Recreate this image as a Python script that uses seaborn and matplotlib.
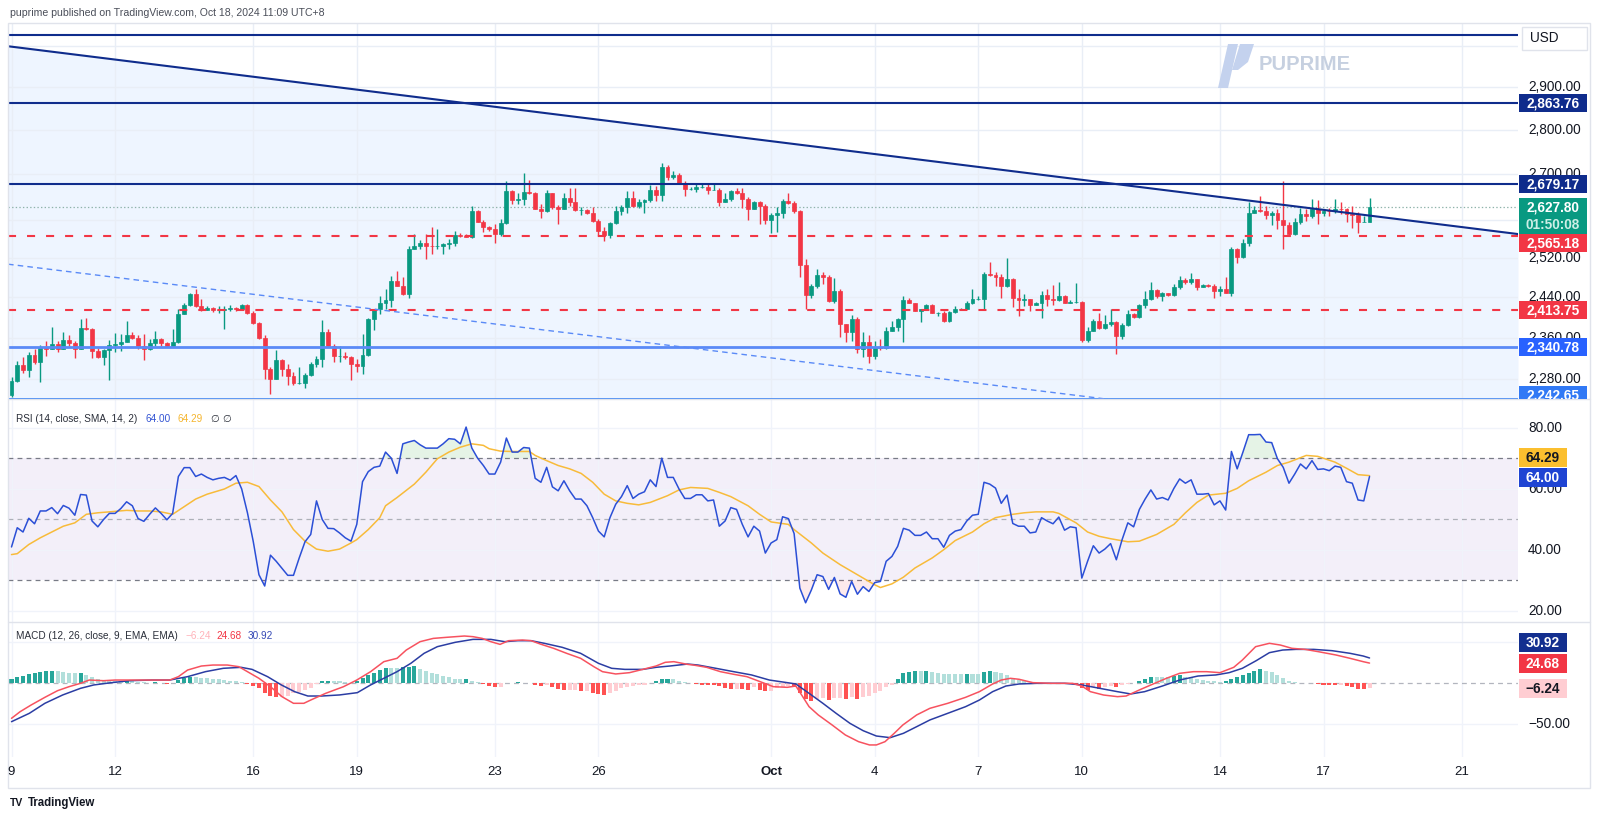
import matplotlib
matplotlib.use("Agg")
import numpy as np
import matplotlib.pyplot as plt
import seaborn as sns
from matplotlib.patches import Rectangle, Polygon
from matplotlib.lines import Line2D
from matplotlib.transforms import Bbox, TransformedBbox

'''Gráfico 4H no estilo TradingView: candles + RSI + MACD'''

# Valores (um candle a cada 4 horas, índice 0 = dia 9)
primeira_abertura = 2250
fechamentos = [
    2277, 2307, 2297, 2327, 2313, 2341, 2338, 2348, 2338, 2355,
    2350, 2338, 2378, 2376, 2334, 2322, 2335, 2345, 2347, 2352,
    2365, 2360, 2344, 2338, 2350, 2357, 2349, 2344, 2352, 2407,
    2424, 2446, 2423, 2414, 2419, 2414, 2415, 2417, 2419, 2416,
    2424, 2409, 2388, 2360, 2299, 2281, 2316, 2300, 2287, 2273,
    2274, 2289, 2310, 2318, 2370, 2344, 2324, 2325, 2323, 2310,
    2305, 2327, 2397, 2416, 2429, 2435, 2473, 2463, 2447, 2538,
    2545, 2552, 2545, 2544, 2544, 2549, 2552, 2567, 2565, 2564,
    2620, 2596, 2586, 2580, 2570, 2594, 2663, 2644, 2645, 2661,
    2659, 2624, 2620, 2658, 2629, 2624, 2648, 2638, 2622, 2622,
    2615, 2598, 2577, 2567, 2594, 2620, 2627, 2648, 2631, 2639,
    2644, 2665, 2655, 2717, 2693, 2698, 2681, 2668, 2668, 2672,
    2672, 2665, 2666, 2639, 2645, 2663, 2659, 2646, 2624, 2639,
    2630, 2600, 2610, 2616, 2641, 2636, 2620, 2506, 2444, 2463,
    2485, 2480, 2433, 2453, 2386, 2371, 2397, 2338, 2352, 2325,
    2341, 2339, 2373, 2380, 2396, 2434, 2429, 2413, 2416, 2424,
    2409, 2409, 2392, 2411, 2416, 2417, 2429, 2436, 2437, 2486,
    2485, 2480, 2463, 2476, 2439, 2435, 2436, 2424, 2428, 2444,
    2437, 2435, 2443, 2429, 2430, 2430, 2356, 2373, 2393, 2378,
    2386, 2390, 2363, 2385, 2406, 2401, 2424, 2437, 2455, 2443,
    2448, 2444, 2461, 2475, 2471, 2476, 2461, 2464, 2463, 2453,
    2457, 2449, 2539, 2521, 2551, 2616, 2622, 2620, 2610, 2616,
    2600, 2589, 2571, 2595, 2613, 2608, 2624, 2616, 2620, 2619,
    2624, 2623, 2613, 2610, 2596, 2596, 2627.80]
maximas = [
    2284, 2314, 2322, 2333, 2338, 2346, 2354, 2380, 2353, 2371,
    2364, 2354, 2396, 2399, 2378, 2339, 2338, 2355, 2369, 2366,
    2392, 2371, 2364, 2367, 2357, 2373, 2360, 2352, 2377, 2417,
    2429, 2449, 2457, 2436, 2423, 2421, 2423, 2423, 2424, 2421,
    2426, 2426, 2413, 2390, 2364, 2303, 2335, 2319, 2310, 2294,
    2303, 2293, 2313, 2325, 2394, 2377, 2348, 2343, 2332, 2325,
    2319, 2366, 2399, 2417, 2443, 2456, 2483, 2493, 2480, 2545,
    2570, 2557, 2570, 2584, 2580, 2552, 2559, 2577, 2573, 2570,
    2630, 2622, 2600, 2587, 2591, 2602, 2685, 2666, 2659, 2702,
    2688, 2660, 2634, 2666, 2659, 2632, 2659, 2670, 2670, 2629,
    2624, 2629, 2602, 2584, 2596, 2630, 2632, 2662, 2662, 2645,
    2646, 2675, 2674, 2726, 2720, 2708, 2702, 2685, 2672, 2681,
    2681, 2681, 2681, 2670, 2658, 2666, 2670, 2670, 2650, 2641,
    2641, 2634, 2616, 2627, 2645, 2658, 2641, 2622, 2517, 2466,
    2497, 2490, 2485, 2478, 2456, 2386, 2404, 2401, 2370, 2364,
    2354, 2357, 2380, 2393, 2399, 2443, 2439, 2429, 2417, 2426,
    2426, 2410, 2413, 2413, 2423, 2419, 2433, 2457, 2443, 2490,
    2511, 2490, 2486, 2520, 2479, 2457, 2446, 2437, 2430, 2452,
    2456, 2464, 2471, 2444, 2435, 2469, 2432, 2380, 2396, 2408,
    2404, 2416, 2393, 2388, 2415, 2409, 2426, 2453, 2471, 2456,
    2451, 2448, 2466, 2483, 2478, 2488, 2476, 2466, 2466, 2466,
    2463, 2481, 2543, 2541, 2560, 2638, 2630, 2652, 2630, 2620,
    2623, 2685, 2595, 2605, 2625, 2623, 2645, 2644, 2623, 2625,
    2645, 2638, 2625, 2630, 2617, 2609, 2648]
minimas = [
    2247, 2275, 2292, 2284, 2310, 2275, 2324, 2338, 2332, 2337,
    2344, 2320, 2337, 2374, 2321, 2320, 2308, 2278, 2332, 2334,
    2351, 2357, 2338, 2316, 2336, 2344, 2344, 2341, 2343, 2350,
    2406, 2423, 2421, 2413, 2414, 2411, 2409, 2377, 2413, 2413,
    2415, 2406, 2386, 2357, 2281, 2253, 2280, 2287, 2269, 2269,
    2271, 2264, 2287, 2303, 2303, 2341, 2313, 2313, 2318, 2278,
    2294, 2290, 2324, 2374, 2406, 2416, 2421, 2462, 2445, 2439,
    2538, 2538, 2517, 2528, 2538, 2528, 2538, 2545, 2563, 2563,
    2561, 2595, 2575, 2577, 2552, 2565, 2592, 2635, 2635, 2633,
    2656, 2623, 2605, 2618, 2624, 2591, 2623, 2630, 2620, 2611,
    2613, 2596, 2565, 2555, 2562, 2591, 2611, 2616, 2627, 2625,
    2615, 2639, 2641, 2641, 2688, 2690, 2681, 2651, 2665, 2661,
    2670, 2656, 2665, 2630, 2638, 2641, 2656, 2625, 2600, 2623,
    2591, 2591, 2573, 2574, 2605, 2634, 2616, 2480, 2416, 2439,
    2459, 2466, 2431, 2429, 2362, 2352, 2354, 2330, 2322, 2311,
    2318, 2335, 2338, 2372, 2373, 2352, 2428, 2413, 2390, 2415,
    2408, 2403, 2391, 2391, 2409, 2415, 2417, 2426, 2435, 2416,
    2483, 2463, 2439, 2461, 2420, 2403, 2423, 2413, 2424, 2399,
    2423, 2424, 2433, 2428, 2428, 2429, 2352, 2352, 2372, 2377,
    2377, 2383, 2328, 2358, 2382, 2399, 2398, 2419, 2435, 2439,
    2433, 2443, 2443, 2457, 2466, 2466, 2455, 2461, 2461, 2439,
    2443, 2448, 2443, 2510, 2519, 2545, 2616, 2617, 2602, 2589,
    2580, 2538, 2565, 2567, 2591, 2598, 2605, 2591, 2609, 2609,
    2615, 2613, 2595, 2583, 2573, 2595, 2595]

rsi = [
    40.9, 47.2, 45.8, 50.3, 48.5, 52.7, 52.7, 53.8, 51.8, 54.5,
    53.6, 51.3, 58.1, 57.9, 49.4, 47.5, 49.9, 51.9, 51.9, 53.5,
    55.7, 54.4, 50.2, 49.3, 51.6, 53.7, 51.9, 49.8, 51.9, 64.0,
    66.9, 66.9, 64.0, 64.8, 63.7, 62.9, 63.4, 63.7, 62.8, 64.3,
    59.9, 52.1, 42.8, 31.8, 28.1, 38.2, 36.2, 33.9, 31.6, 31.6,
    37.3, 42.6, 45.0, 56.0, 49.9, 47.0, 46.9, 45.5, 43.9, 42.8,
    48.3, 62.3, 65.6, 67.0, 67.4, 72.0, 70.0, 65.0, 74.7, 75.3,
    75.8, 74.4, 73.3, 73.3, 73.3, 74.7, 76.4, 76.2, 74.7, 80.2,
    73.3, 70.0, 67.6, 64.8, 64.8, 68.7, 76.6, 72.0, 72.0, 73.5,
    73.3, 63.4, 62.1, 67.0, 60.6, 59.3, 62.6, 59.3, 56.6, 56.6,
    54.4, 50.5, 46.1, 44.2, 50.5, 54.9, 57.4, 61.0, 56.8, 58.2,
    59.0, 62.9, 60.7, 70.0, 63.7, 63.7, 59.9, 56.8, 56.8, 58.0,
    58.0, 56.0, 56.3, 47.7, 49.4, 53.8, 53.2, 48.3, 44.2, 47.7,
    46.1, 38.9, 42.2, 43.3, 50.8, 50.2, 45.3, 27.4, 22.6, 26.8,
    31.8, 31.2, 27.0, 30.9, 25.5, 24.4, 29.6, 25.4, 27.9, 26.3,
    29.2, 29.6, 36.2, 37.8, 41.1, 47.0, 46.4, 44.7, 44.7, 45.8,
    43.6, 43.6, 40.8, 44.7, 46.1, 46.6, 49.4, 51.3, 51.6, 62.1,
    61.5, 60.2, 55.2, 57.9, 48.6, 47.7, 47.7, 45.5, 45.8, 50.5,
    49.4, 48.5, 50.7, 46.4, 47.5, 47.2, 30.7, 36.2, 41.3, 38.9,
    40.2, 42.0, 36.7, 43.3, 48.8, 47.5, 53.2, 56.6, 59.6, 56.6,
    57.1, 56.3, 60.1, 63.2, 61.8, 62.9, 58.2, 58.2, 58.4, 54.7,
    56.0, 53.0, 72.2, 66.5, 72.0, 77.7, 77.7, 77.8, 75.3, 75.1,
    69.8, 67.0, 61.8, 64.8, 68.1, 66.5, 69.2, 66.3, 66.5, 65.9,
    67.4, 67.0, 62.3, 61.8, 56.3, 56.0, 64.00]

# média do RSI (lida em pontos da curva)
rsi_media_x = [0, 1, 3, 5, 7, 9, 11, 13, 15, 17, 20, 22, 24, 26, 28, 30, 32, 34, 37, 39,
               41, 43, 45, 47, 49, 51, 53, 55, 57, 59, 60, 62, 64, 65, 67, 70, 72, 74, 76, 78,
               80, 82, 83, 85, 87, 90, 91, 93, 95, 97, 99, 101, 103, 105, 107, 109, 111, 114, 116, 118,
               121, 123, 125, 128, 130, 132, 135, 136, 139, 141, 144, 147, 150, 151, 153, 155, 157, 160, 162, 164,
               167, 169, 171, 174, 176, 178, 181, 182, 185, 187, 189, 191, 194, 196, 199, 202, 204, 206, 208, 211,
               213, 215, 218, 220, 222, 225, 227, 230, 232, 234, 236]
rsi_media = [38.4, 38.7, 41.7, 43.9, 45.8, 47.7, 48.8, 51.6, 52.1, 52.4, 52.9, 52.7, 52.7, 52.4, 51.6, 54.1, 56.6, 58.2, 59.9, 61.8,
             62.1, 60.7, 56.3, 52.4, 46.6, 42.8, 40.2, 39.5, 40.2, 42.2, 43.3, 46.6, 50.5, 54.4, 57.1, 61.5, 65.4, 69.8, 72.0, 73.6,
             74.7, 74.2, 73.1, 72.3, 72.2, 72.2, 70.9, 69.2, 67.6, 66.5, 65.0, 62.1, 58.2, 56.0, 55.2, 54.7, 55.5, 57.7, 59.6, 60.4,
             60.1, 58.8, 57.4, 54.4, 51.6, 49.1, 48.3, 46.6, 42.2, 38.9, 35.1, 31.8, 28.5, 27.6, 28.8, 31.0, 34.0, 37.3, 40.0, 43.0,
             45.8, 48.5, 50.5, 51.6, 52.1, 52.4, 52.4, 51.9, 48.8, 45.8, 44.4, 43.6, 42.6, 42.8, 45.0, 48.3, 52.1, 55.5, 57.9, 58.5,
             60.1, 62.6, 65.4, 67.6, 68.7, 70.9, 70.6, 68.7, 66.7, 64.6, 64.29]

# MACD (12, 26, 9): linha MACD, linha de sinal e histograma
macd_x = [0, 1.5, 3.4, 5.8, 8, 10, 12, 13.5, 16, 18, 20.5, 23.6, 27.5, 29, 30.6, 33, 35, 37.5, 39.5, 41,
          43, 45, 47, 49, 50.8, 52, 54.6, 57.7, 60, 62.4, 64.7, 67, 68.6, 71, 73.3, 75.6, 78.7, 80.2, 81.8, 83.3,
          84.9, 86.4, 88.8, 90.3, 91.9, 94.2, 96.5, 98.9, 101.2, 102.7, 105, 107.4, 109.7, 112, 113.6, 115.1, 117.5, 118.5, 120.8, 123.2,
          125.5, 127.8, 130.1, 132.4, 134.8, 136.3, 137.5, 138.6, 140.2, 142.6, 144.9, 147.2, 149.1, 150.3, 151.8, 153.4, 154.9, 157.3, 159.6, 162.7,
          165.8, 168.2, 170.5, 172, 173.6, 175.1, 177.5, 180.6, 184.4, 186, 187.5, 189.8, 192.2, 193.7, 196, 198.4, 200.7, 203, 205.4, 207.7,
          210, 212.4, 213.9, 216.2, 218.6, 220.5, 222.5, 224.8, 227.1, 230.2, 232.6, 234.9, 236]
macd = [-42.7, -34.6, -26.5, -17.1, -9.0, -4.1, 0.0, 4.0, 3.2, 4.0, 4.0, 4.0, 4.0, 8.1, 16.2, 21.1, 22.3, 22.3, 20.3, 14.2,
        6.1, -4.1, -16.3, -24.4, -24.4, -20.4, -12.2, -4.1, 4.0, 14.2, 26.4, 30.5, 40.6, 50.8, 54.8, 56.1, 57.7, 56.9, 54.8, 50.8,
        47.5, 52.0, 52.8, 52.0, 47.9, 42.7, 36.5, 30.5, 20.3, 14.2, 11.4, 13.0, 17.0, 21.1, 25.6, 26.4, 23.1, 22.3, 19.5, 14.2,
        11.0, 8.1, 2.0, -4.1, -4.9, -3.3, -16.3, -28.5, -38.6, -50.8, -63.0, -71.2, -75.2, -75.2, -71.2, -61.0, -50.8, -38.6, -30.5, -24.4,
        -17.1, -10.2, -0.8, 4.0, 6.1, 4.9, 0.8, 0.0, 0.0, -3.3, -10.2, -14.3, -16.3, -15.5, -8.1, -0.8, 6.1, 12.2, 14.2, 14.2,
        13.0, 19.5, 28.4, 44.7, 48.8, 46.7, 42.7, 41.4, 38.6, 34.5, 30.5, 26.4, 24.68]
sinal_x = [0, 3.1, 5.8, 8.9, 12, 14.3, 17.4, 20.5, 24.4, 27.5, 30.6, 33.7, 36.8, 39.9, 41.8, 44.5, 46.9, 49.2, 51.5, 53.9,
           57, 60.1, 62.4, 64.7, 67, 69.4, 71.7, 74, 77.1, 80.2, 83.3, 85.7, 88, 90.3, 92.6, 95.7, 98.9, 102, 104.3, 106.6,
           109.7, 112, 114.4, 117.5, 119.3, 122.4, 125.5, 128.6, 131.7, 134.8, 136.3, 138.6, 141, 143.3, 145.7, 148, 150.3, 152.7, 155, 157.3,
           159.6, 162.7, 165.8, 168.2, 170.5, 172.8, 175.1, 178.3, 183, 186, 189.1, 192.2, 194.5, 196.9, 200, 203, 206.2, 209.3, 211.6, 213.9,
           216.3, 218.6, 220.9, 223.2, 226.3, 229.5, 232.6, 234.9, 236]
sinal = [-46.8, -36.6, -24.4, -14.2, -6.1, -2.0, 0.8, 3.2, 4.0, 4.0, 8.1, 14.2, 18.3, 19.5, 17.0, 8.1, -2.0, -10.2, -15.5, -15.5,
         -14.2, -11.4, -2.0, 6.1, 14.2, 24.4, 36.6, 44.7, 50.0, 53.6, 53.6, 50.8, 52.0, 52.0, 48.8, 43.9, 36.6, 24.4, 18.3, 17.0,
         17.0, 19.5, 21.1, 23.5, 22.3, 18.3, 14.2, 10.2, 4.0, 0.8, -0.8, -12.2, -24.4, -36.6, -48.8, -57.8, -64.3, -66.3, -61.0, -52.9,
         -44.7, -36.6, -28.5, -20.4, -10.2, -3.3, -0.8, 0.0, 0.0, -2.0, -6.1, -10.2, -13.0, -10.2, -3.3, 4.0, 8.9, 10.2, 13.0, 18.3,
         27.6, 37.4, 40.6, 41.4, 41.4, 39.8, 36.6, 33.3, 30.92]
histograma = [
    4.9, 7.3, 9.3, 11.8, 12.2, 13.4, 14.6, 15.0, 14.6, 13.8,
    13.0, 12.2, 13.0, 9.8, 8.1, 5.7, 4.1, 3.3, 2.4, 2.0,
    3.3, 2.4, 1.6, 1.2, 0.8, 1.6, 0.8, -0.8, 0.4, 4.1,
    6.9, 8.1, 7.7, 6.9, 6.1, 5.3, 4.9, 4.1, 3.3, 2.8,
    1.6, -0.8, -3.3, -6.1, -11.4, -15.4, -16.3, -16.3, -15.4, -12.2,
    -10.2, -8.1, -6.1, -0.8, 2.4, 3.3, 3.3, 2.4, 1.6, 0.8,
    2.4, 6.1, 10.2, 13.0, 16.3, 18.3, 18.3, 18.3, 19.5, 20.3,
    21.5, 17.9, 15.4, 13.0, 11.0, 9.3, 7.3, 5.7, 4.9, 5.7,
    3.3, 1.6, -0.8, -3.3, -4.9, -4.9, 0.8, 0.8, 1.6, 0.8,
    0.8, -1.6, -3.3, -2.4, -4.9, -7.3, -8.1, -8.1, -8.1, -8.9,
    -8.9, -11.4, -13.0, -14.6, -12.2, -8.9, -6.1, -4.9, -3.3, -2.4,
    -1.6, 0.8, 3.3, 4.9, 5.7, 5.7, 3.3, 1.6, 0.0, -0.8,
    -1.6, -2.0, -2.4, -3.3, -5.7, -6.5, -6.5, -7.3, -8.1, -4.9,
    -8.1, -9.8, -9.8, -6.1, -4.1, -3.3, -4.9, -11.4, -19.5, -21.1,
    -19.5, -18.3, -20.3, -18.3, -18.3, -19.5, -17.1, -19.5, -16.3, -15.4,
    -12.2, -8.9, -4.9, -2.0, 4.9, 12.2, 13.8, 14.6, 14.6, 15.4,
    13.8, 12.2, 11.4, 11.4, 11.0, 11.0, 11.4, 11.4, 11.4, 14.2,
    15.4, 14.2, 12.2, 10.2, 6.1, 4.1, 2.4, 0.8, 0.0, 0.0,
    0.0, 0.0, 0.0, 0.0, -0.4, -0.8, -6.1, -8.1, -4.9, -6.5,
    -4.9, -3.3, -4.9, -2.4, -0.8, 0.0, 3.3, 4.9, 7.3, 7.3,
    7.3, 7.3, 8.9, 9.8, 7.3, 6.1, 4.9, 4.1, 3.3, 2.4,
    1.6, 3.3, 4.9, 8.1, 10.2, 13.0, 15.4, 17.1, 14.6, 13.8,
    10.2, 6.1, 3.3, 1.6, 0.8, 0.8, 0.0, -0.8, -1.6, -2.0,
    -2.4, -2.4, -3.3, -4.9, -6.5, -7.3, -6.24]

# eixo do tempo: dias a partir do dia 9 (6 candles por dia)
dias_ticks = [0, 3, 7, 10, 14, 17, 22, 25, 28, 31, 35, 38, 42]
rotulos_ticks = ["9", "12", "16", "19", "23", "26", "Oct", "4", "7", "10", "14", "17", "21"]

# desenhos sobre o preço
nivel_topo = 3027
resistencias = [2863.76, 2679.17]
suportes_tracejados = [2565.18, 2413.75]
suporte_azul = 2340.78
suporte_base = 2242.65
preco_atual = 2627.80
tendencia_x, tendencia_y = [-0.6, 261.8], [3000, 2570]
tracejada_x, tracejada_y = [-0.6, 194.4], [2507, 2238]

ticks_preco = [2280, 2360, 2440, 2520, 2600, 2700, 2800, 2900, 3000]
rotulos_preco = [2280, 2360, 2440, 2520, 2700, 2800, 2900]   # 2600 e 3000 ficam escondidos
ticks_rsi = [20, 40, 60, 80]
ticks_macd = [-50, 50]

# cores
VERDE = '#089981'
VERMELHO = '#f23645'
NAVY = '#0f2c8c'
AZUL = '#5a8af7'
AZUL_BASE = '#2f7cf3'
GRADE = '#f0f3fa'
TEXTO = '#131722'

W, H = 1600, 819

sns.set_theme(style="white")
plt.rcParams['font.family'] = ['Liberation Sans', 'DejaVu Sans']
plt.rcParams['lines.scale_dashes'] = False

fig = plt.figure(figsize=(W / 100, H / 100), dpi=100)
fig.patch.set_facecolor('white')


def novo_eixo(y0, y1):
    ax = fig.add_axes([8 / W, 1 - y1 / H, 1510 / W, (y1 - y0) / H])
    ax.set_facecolor('white')
    for s in ax.spines.values():
        s.set_visible(False)
    ax.set_xlim(-0.61, 261.8)
    return ax


ax_p = novo_eixo(23, 399)
ax_r = novo_eixo(399, 622)
ax_m = novo_eixo(622, 757)

idx = np.arange(len(fechamentos))
aberturas = np.array([primeira_abertura] + fechamentos[:-1], dtype=float)
fech = np.array(fechamentos, dtype=float)
pos_ticks = [6 * d for d in dias_ticks]

# ---------- painel de preço ----------
ax_p.set_yscale('log')
ax_p.set_ylim(2243.5, 3058)
ax_p.fill_between(tendencia_x, tendencia_y, 2000, color='#eef5ff', lw=0, zorder=0)
for p in ticks_preco:
    ax_p.axhline(p, color='#e9eef6', lw=1, zorder=0.5)
for x in pos_ticks:
    ax_p.axvline(x, color='#e9eef6', lw=1, zorder=0.5)

cores = np.where(fech >= aberturas, VERDE, VERMELHO)
ax_p.vlines(idx, minimas, maximas, colors=cores, lw=1.0, zorder=3)
ax_p.bar(idx, fech - aberturas, bottom=aberturas, width=0.68, color=cores,
         edgecolor=cores, linewidth=0.5, zorder=4)

ax_p.axhline(nivel_topo, color=NAVY, lw=1.5, zorder=5)
for r in resistencias:
    ax_p.axhline(r, color=NAVY, lw=1.5, zorder=5)
for s in suportes_tracejados:
    ax_p.axhline(s, color=VERMELHO, lw=1.5, dashes=(5.8, 7.9), zorder=5)
ax_p.axhline(suporte_azul, color=AZUL, lw=2.0, zorder=5)
ax_p.axhline(suporte_base, color=AZUL_BASE, lw=2.0, zorder=5)
ax_p.axhline(preco_atual, color='#8fb3aa', lw=0.9, dashes=(1, 1.6), zorder=2)
sns.lineplot(x=tendencia_x, y=tendencia_y, ax=ax_p, color=NAVY, linewidth=1.5,
             sort=False, legend=False, zorder=6)
ax_p.plot(tracejada_x, tracejada_y, color='#5a8af7', lw=1.0, dashes=(4, 3), zorder=5)

# ---------- painel RSI ----------
ax_r.set_ylim(16.3, 89.4)
ax_r.axhspan(30, 70, color='#7e57c2', alpha=0.09, lw=0, zorder=0)
for v in ticks_rsi:
    ax_r.axhline(v, color=GRADE, lw=1, zorder=0.5)
for x in pos_ticks:
    ax_r.axvline(x, color=GRADE, lw=1, zorder=0.5)
ax_r.axhline(70, color='#787b86', lw=0.9, dashes=(3.5, 3), zorder=1)
ax_r.axhline(50, color='#adb0b8', lw=0.9, dashes=(3.5, 3), zorder=1)
ax_r.axhline(30, color='#787b86', lw=0.9, dashes=(3.5, 3), zorder=1)
rsi_arr = np.array(rsi)
ax_r.fill_between(idx, rsi_arr, 70, where=rsi_arr >= 70, interpolate=True,
                  color='#4caf50', alpha=0.14, lw=0, zorder=1)
ax_r.fill_between(idx, rsi_arr, 30, where=rsi_arr <= 30, interpolate=True,
                  color='#f23645', alpha=0.10, lw=0, zorder=1)
sns.lineplot(x=rsi_media_x, y=rsi_media, ax=ax_r, color='#f8bb3a', linewidth=1.1,
             sort=False, legend=False, zorder=3)
sns.lineplot(x=idx, y=rsi, ax=ax_r, color='#2b4fd6', linewidth=1.1,
             sort=False, legend=False, zorder=4)

# ---------- painel MACD ----------
ax_m.set_ylim(-89.9, 74.8)
for v in ticks_macd:
    ax_m.axhline(v, color=GRADE, lw=1, zorder=0.5)
for x in pos_ticks:
    ax_m.axvline(x, color=GRADE, lw=1, zorder=0.5)
ax_m.axhline(0, color='#b2b5be', lw=0.9, dashes=(3.5, 3), zorder=1)
cores_h = []
for i, h in enumerate(histograma):
    ant = histograma[i - 1] if i else h - 1
    if h >= 0:
        cores_h.append('#26a69a' if h > ant else '#b2dfdb')
    else:
        cores_h.append('#ff5252' if h < ant else '#ffcdd2')
ax_m.bar(idx, histograma, width=0.7, color=cores_h, lw=0, zorder=2)
sns.lineplot(x=sinal_x, y=sinal, ax=ax_m, color='#2b3da3', linewidth=1.1,
             sort=False, legend=False, zorder=3)
sns.lineplot(x=macd_x, y=macd, ax=ax_m, color='#f7525f', linewidth=1.1,
             sort=False, legend=False, zorder=4)

for ax in (ax_p, ax_r, ax_m):
    ax.set_xlim(-0.61, 261.8)
    ax.set_xlabel('')
    ax.set_ylabel('')
    ax.tick_params(which='both', left=False, right=False, bottom=False, top=False,
                   labelleft=False, labelbottom=False)
    ax.minorticks_off()

# ---------- moldura ----------
fig.add_artist(Rectangle((8 / W, 1 - 788 / H), 1582 / W, 765 / H, fill=False,
                         ec='#e0e3eb', lw=1, transform=fig.transFigure, zorder=1))
for yy in (399, 622):
    fig.add_artist(Line2D([8 / W, 1590 / W], [1 - yy / H] * 2, color='#e0e3eb',
                          lw=1, transform=fig.transFigure, zorder=1))


def ypx(ax, v):
    return H - ax.transData.transform((0, v))[1]


# rótulos do eixo de preço
for p in rotulos_preco:
    fig.text(1528 / W, 1 - ypx(ax_p, p) / H, f"{p:,.2f}", ha='left', va='center',
             fontsize=9.8, color=TEXTO, zorder=3)
for v in ticks_rsi:
    fig.text(1528 / W, 1 - ypx(ax_r, v) / H, f"{v:.2f}", ha='left', va='center',
             fontsize=9.8, color=TEXTO, zorder=3)
fig.text(1528 / W, 1 - ypx(ax_m, -50) / H, "\u221250.00", ha='left', va='center',
         fontsize=9.8, color=TEXTO, zorder=3)


def etiqueta(ax, v, txt, fc, tc, w=68, h=18, dy=0, clip=None):
    yc = ypx(ax, v) + dy
    r = Rectangle((1519 / W, 1 - (yc + h / 2) / H), w / W, h / H, transform=fig.transFigure,
                  facecolor=fc, edgecolor='none', zorder=5)
    fig.add_artist(r)
    t = fig.text((1519 + w / 2) / W, 1 - (yc + 0.5) / H, txt, ha='center', va='center',
                 color=tc, fontsize=9.8, fontweight='bold', zorder=6)
    if clip is not None:
        r.set_clip_box(clip)
        r.set_clip_on(True)
        t.set_clip_box(clip)
        t.set_clip_on(True)


etiqueta(ax_p, resistencias[0], "2,863.76", NAVY, 'white')
etiqueta(ax_p, resistencias[1], "2,679.17", NAVY, 'white')
etiqueta(ax_p, suportes_tracejados[0], "2,565.18", VERMELHO, 'white', dy=7)
etiqueta(ax_p, suportes_tracejados[1], "2,413.75", VERMELHO, 'white')
etiqueta(ax_p, suporte_azul, "2,340.78", '#2962ff', 'white')
clip_preco = TransformedBbox(Bbox([[1519 / W, 1 - 399 / H], [1590 / W, 1 - 23 / H]]), fig.transFigure)
etiqueta(ax_p, suporte_base, "2,242.65", '#3179f5', 'white', dy=-4, clip=clip_preco)

# etiqueta do preço atual com contagem regressiva
yc = ypx(ax_p, preco_atual)
fig.add_artist(Rectangle((1519 / W, 1 - (yc + 27) / H), 68 / W, 36 / H, transform=fig.transFigure,
                         facecolor=VERDE, edgecolor='none', zorder=5))
fig.text(1553 / W, 1 - (yc + 0.5) / H, f"{preco_atual:,.2f}", ha='center', va='center',
         color='white', fontsize=9.8, fontweight='bold', zorder=6)
fig.text(1553 / W, 1 - (yc + 17.5) / H, "01:50:08", ha='center', va='center',
         color='#cdeee6', fontsize=9.8, fontweight='bold', zorder=6)

etiqueta(ax_r, rsi_media[-1], f"{rsi_media[-1]:.2f}", '#fbbf2f', TEXTO, w=48, h=19, dy=-18.4)
etiqueta(ax_r, rsi[-1], f"{rsi[-1]:.2f}", '#1f44d3', 'white', w=48, h=19, dy=1)
etiqueta(ax_m, sinal[-1], f"{sinal[-1]:.2f}", '#132f8f', 'white', w=48, h=19, dy=-15)
etiqueta(ax_m, macd[-1], f"{macd[-1]:.2f}", VERMELHO, 'white', w=48, h=19)
etiqueta(ax_m, histograma[-1], "\u22126.24", '#ffcdd2', TEXTO, w=48, h=19)

# caixa USD
fig.add_artist(Rectangle((1522 / W, 1 - 50 / H), 65 / W, 23 / H, transform=fig.transFigure,
                         facecolor='white', edgecolor='#e0e3eb', lw=1, zorder=5))
fig.text(1530 / W, 1 - 38.5 / H, "USD", ha='left', va='center', fontsize=9.8,
         color=TEXTO, zorder=6)

# rótulos de data
for x, lab in zip(pos_ticks, rotulos_ticks):
    xf = ax_m.transData.transform((x, 0))[0] / W
    fig.text(xf, 1 - 772 / H, lab, ha='center', va='center', fontsize=9.5, color=TEXTO,
             fontweight='bold' if lab == "Oct" else 'normal')

# legendas dos indicadores
FS_LEG = 7.2
yl = 1 - 419 / H
fig.text(16 / W, yl, "RSI (14, close, SMA, 14, 2)", fontsize=FS_LEG, color='#2a2e39', va='center')
fig.text(146 / W, yl, f"{rsi[-1]:.2f}", fontsize=FS_LEG, color='#3253d3', va='center')
fig.text(177 / W, yl, f"{rsi_media[-1]:.2f}", fontsize=FS_LEG, color='#f5b52e', va='center')
fig.text(210 / W, yl, "\u2205", fontsize=FS_LEG, color='#2a2e39', va='center')
fig.text(222 / W, yl, "\u2205", fontsize=FS_LEG, color='#2a2e39', va='center')
yl = 1 - 635.7 / H
fig.text(16 / W, yl, "MACD (12, 26, close, 9, EMA, EMA)", fontsize=FS_LEG, color='#2a2e39', va='center')
fig.text(185 / W, yl, "\u22126.24", fontsize=FS_LEG, color='#ffb3ba', va='center')
fig.text(216 / W, yl, f"{macd[-1]:.2f}", fontsize=FS_LEG, color=VERMELHO, va='center')
fig.text(248 / W, yl, f"{sinal[-1]:.2f}", fontsize=FS_LEG, color='#3448b5', va='center')

# cabeçalho e rodapé
fig.text(10 / W, 1 - 13 / H, "puprime published on TradingView.com, Oct 18, 2024 11:09 UTC+8",
         fontsize=7.6, color='#4a4e59', va='center')
fig.text(28 / W, 1 - 803 / H, "TradingView", fontsize=8.3, color=TEXTO, va='center',
         fontweight='bold')
fig.text(10 / W, 1 - 803 / H, "TV", fontsize=7.5, color=TEXTO, va='center', fontweight='heavy')

# marca d'água PU Prime
fig.add_artist(Polygon([[1218 / W, 1 - 88 / H], [1228 / W, 1 - 44 / H], [1238 / W, 1 - 44 / H],
                        [1228 / W, 1 - 88 / H]], closed=True, transform=fig.transFigure,
                       facecolor='#c4d2ee', edgecolor='none', zorder=2))
fig.add_artist(Polygon([[1232 / W, 1 - 70 / H], [1240 / W, 1 - 44 / H], [1254 / W, 1 - 44 / H],
                        [1248 / W, 1 - 62 / H], [1238 / W, 1 - 70 / H]], closed=True,
                       transform=fig.transFigure, facecolor='#c4d2ee', edgecolor='none', zorder=2))
fig.text(1259 / W, 1 - 65 / H, "PUPRIME", fontsize=14.5, fontweight='bold', color='#c6d0e0',
         va='center', ha='left')

fig.savefig('out.png', dpi=100, facecolor='white')
